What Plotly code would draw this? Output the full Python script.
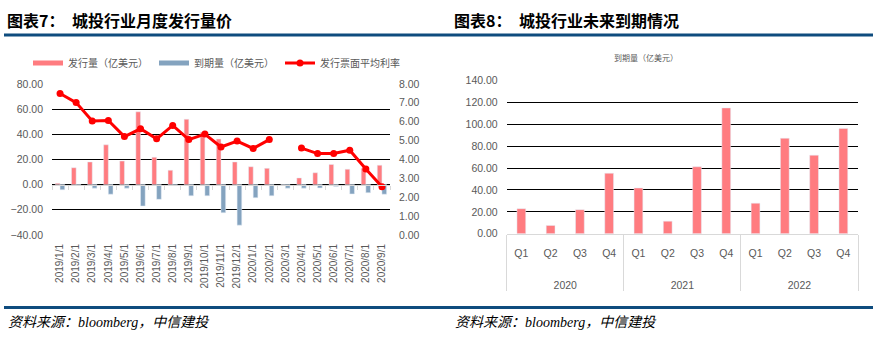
import plotly.graph_objects as go

# ---- monthly issuance / maturity / coupon (left panel) ----
months = ["2019/1/1", "2019/2/1", "2019/3/1", "2019/4/1", "2019/5/1", "2019/6/1",
          "2019/7/1", "2019/8/1", "2019/9/1", "2019/10/1", "2019/11/1", "2019/12/1",
          "2020/1/1", "2020/2/1", "2020/3/1", "2020/4/1", "2020/5/1", "2020/6/1",
          "2020/7/1", "2020/8/1", "2020/9/1"]
issuance = [1.0, 13.4, 18.0, 31.6, 18.7, 57.8, 21.7, 11.4, 51.9, 41.5, 36.2, 18.0,
            14.2, 12.9, 0.0, 5.3, 9.4, 16.0, 12.2, 12.9, 15.4]
maturity = [-4.1, -0.5, -2.8, -7.6, -2.8, -17.0, -11.7, -0.8, -8.9, -8.9, -22.3, -32.2,
            -10.4, -8.9, -2.8, -2.8, -2.6, -1.5, -7.4, -6.4, -7.6]
coupon = [7.49, 7.01, 6.03, 6.06, 5.21, 5.62, 5.09, 5.80, 5.05, 5.34, 4.66, 4.97,
          4.58, 5.05, None, 4.60, 4.31, 4.31, 4.49, 3.49, 2.55]

# ---- quarterly maturity schedule (right panel) ----
years = ["2020", "2020", "2020", "2020", "2021", "2021", "2021", "2021",
         "2022", "2022", "2022", "2022"]
quarters = ["Q1", "Q2", "Q3", "Q4", "Q1", "Q2", "Q3", "Q4", "Q1", "Q2", "Q3", "Q4"]
maturity_q = [22.9, 7.6, 22.0, 55.3, 41.8, 11.5, 61.2, 115.0, 27.9, 87.3, 71.8, 96.2]

W, H = 873, 342
PINK = "#FF7C80"
BLUE = "#84A3BF"
RED = "#FF0000"
NAVY = "#0E4C7E"
TXT = "#595959"
AXL = "#D9D9D9"
FONT = "Liberation Sans, Arial, Noto Sans CJK SC"
CJK = "Noto Sans CJK SC"


def px_x(x):
    return x / W


def px_y(y):
    return 1 - y / H


left_dom_x = [px_x(52), px_x(390)]
left_dom_y = [px_y(237.3), px_y(80.7)]
right_dom_x = [px_x(506.7), px_x(858)]
right_dom_y = [px_y(236), px_y(77.3)]

left_range = [-40, 80]
zero_pos = left_dom_y[0] + (0 - left_range[0]) / (left_range[1] - left_range[0]) * (left_dom_y[1] - left_dom_y[0])

# the year row sits two blank lines lower than the quarter row
year_rows = ["<br><br>" + y for y in years]

fig = go.Figure()

# bars of the left panel (legend entries drawn by proxies below)
fig.add_trace(go.Bar(x=months, y=issuance, name="发行量（亿美元）", marker_color=PINK,
                     xaxis="x", yaxis="y", showlegend=False, legendgroup="iss"))
fig.add_trace(go.Bar(x=months, y=maturity, name="到期量（亿美元）", marker_color=BLUE,
                     xaxis="x", yaxis="y", showlegend=False, legendgroup="mat"))
fig.add_trace(go.Scatter(x=months, y=coupon, name="发行票面平均利率", mode="lines+markers",
                         line=dict(color=RED, width=3), marker=dict(color=RED, size=7),
                         connectgaps=False, xaxis="x", yaxis="y2", showlegend=False,
                         legendgroup="cpn"))

# legend proxies
fig.add_trace(go.Scatter(x=[None], y=[None], mode="lines", name="发行量（亿美元）",
                         line=dict(color=PINK, width=5), xaxis="x", yaxis="y",
                         legendgroup="iss"))
fig.add_trace(go.Scatter(x=[None], y=[None], mode="lines", name="到期量（亿美元）",
                         line=dict(color=BLUE, width=5), xaxis="x", yaxis="y",
                         legendgroup="mat"))
fig.add_trace(go.Scatter(x=[None], y=[None], mode="lines+markers", name="发行票面平均利率",
                         line=dict(color=RED, width=3), marker=dict(color=RED, size=7),
                         xaxis="x", yaxis="y2", legendgroup="cpn"))

# zero-line category axis with boundary ticks
fig.add_trace(go.Scatter(x=months, y=[None] * len(months), mode="markers",
                         xaxis="x3", yaxis="y", showlegend=False, hoverinfo="skip"))

# right panel
fig.add_trace(go.Bar(x=[year_rows, quarters], y=maturity_q, marker_color=PINK, width=0.3,
                     xaxis="x2", yaxis="y3", showlegend=False, name="到期量（亿美元）"))

cat_range = [-0.5, len(months) - 0.5]
tickfont = dict(family=FONT, size=10.5, color=TXT)

fig.update_layout(
    width=W, height=H,
    margin=dict(l=0, r=0, t=0, b=0),
    paper_bgcolor="white", plot_bgcolor="white",
    font=dict(family=FONT, size=10.5, color=TXT),
    barmode="group", bargap=0.42, bargroupgap=0,
    showlegend=True,
    legend=dict(orientation="h", x=px_x(28), xanchor="left", y=px_y(59), yanchor="middle",
                font=dict(family=CJK, size=10, color=TXT), entrywidth=81,
                entrywidthmode="pixels", bgcolor="rgba(0,0,0,0)", borderwidth=0),
    xaxis=dict(domain=left_dom_x, anchor="y", type="category", range=cat_range,
               tickangle=-90, dtick=1, showgrid=False, showline=False, ticks="",
               tickfont=dict(family=FONT, size=10, color=TXT), ticklabelstandoff=6),
    xaxis3=dict(domain=left_dom_x, anchor="free", position=zero_pos, overlaying="x",
                type="category", range=cat_range, showticklabels=False, showgrid=False,
                showline=True, linecolor=AXL, linewidth=1, ticks="outside",
                tickson="boundaries", ticklen=4, tickcolor=AXL, dtick=1),
    yaxis=dict(domain=left_dom_y, anchor="x", range=left_range, dtick=20,
               tickformat=".2f", showgrid=True, gridcolor="#000000", gridwidth=1,
               zeroline=False, showline=False, ticks="", tickfont=tickfont,
               ticklabelstandoff=8),
    yaxis2=dict(overlaying="y", side="right", anchor="x", range=[0, 8], dtick=1,
                tickformat=".2f", showgrid=False, zeroline=False, showline=False,
                ticks="", tickfont=tickfont, ticklabelstandoff=8),
    xaxis2=dict(domain=right_dom_x, anchor="y3", type="multicategory", showgrid=False,
                showline=True, linecolor=AXL, linewidth=1, ticks="",
                showdividers=True, dividercolor=AXL, dividerwidth=1,
                tickfont=tickfont, ticklabelstandoff=10),
    yaxis3=dict(domain=right_dom_y, anchor="x2", range=[0, 140], dtick=20,
                tickformat=".2f", showgrid=True, gridcolor="#000000", gridwidth=1,
                zeroline=False, showline=False, ticks="", tickfont=tickfont,
                ticklabelstandoff=8),
)

annotations = [
    dict(text="<b>图表7：</b>", x=px_x(5), y=px_y(15), xanchor="left", yanchor="middle",
         font=dict(family=CJK, size=16, color="#000000")),
    dict(text="<b>城投行业月度发行量价</b>", x=px_x(70), y=px_y(15), xanchor="left",
         yanchor="middle", font=dict(family=CJK, size=16, color="#000000")),
    dict(text="<b>图表8：</b>", x=px_x(452), y=px_y(15), xanchor="left", yanchor="middle",
         font=dict(family=CJK, size=16, color="#000000")),
    dict(text="<b>城投行业未来到期情况</b>", x=px_x(517), y=px_y(15), xanchor="left",
         yanchor="middle", font=dict(family=CJK, size=16, color="#000000")),
    dict(text="到期量（亿美元）", x=px_x(646), y=px_y(53), xanchor="center",
         yanchor="middle", font=dict(family=CJK, size=8, color=TXT)),
    dict(text="资料来源：bloomberg，中信建投", x=px_x(6), y=px_y(328), xanchor="left",
         yanchor="middle",
         font=dict(family="Liberation Serif, Noto Sans CJK SC", size=14,
                   color="#000000", style="italic")),
    dict(text="资料来源：bloomberg，中信建投", x=px_x(453), y=px_y(328), xanchor="left",
         yanchor="middle",
         font=dict(family="Liberation Serif, Noto Sans CJK SC", size=14,
                   color="#000000", style="italic")),
]
for a in annotations:
    a.update(xref="paper", yref="paper", showarrow=False)
fig.update_layout(annotations=annotations)

fig.update_layout(shapes=[
    dict(type="line", xref="paper", yref="paper", x0=px_x(4), x1=1,
         y0=px_y(30), y1=px_y(30), line=dict(color=NAVY, width=3)),
    dict(type="line", xref="paper", yref="paper", x0=px_x(4), x1=1,
         y0=px_y(312.5), y1=px_y(312.5), line=dict(color=NAVY, width=3)),
])

fig.write_html("out.html")
